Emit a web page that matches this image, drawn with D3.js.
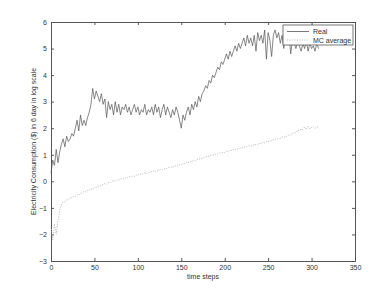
<!DOCTYPE html>
<html>
<head>
<meta charset="utf-8">
<script src="https://cdnjs.cloudflare.com/ajax/libs/d3/7.8.5/d3.min.js"></script>
<style>
body { margin: 0; background: #fff; }
svg text { font-family: "Liberation Sans", Arial, sans-serif; fill: #333; }
</style>
</head>
<body>
<svg id="chart"></svg>
<script>
// time step between stored samples
const step = 2;

// real consumption (log scale), every 2 steps
const realValues = [
	0.3, 0.8, 0.6, 1.2, 0.7, 1.1, 1.4, 1.6, 1.3, 1.7,
	1.5, 1.6, 1.8, 1.7, 2.0, 2.3, 1.9, 2.5, 2.1, 2.3,
	2.1, 2.4, 2.6, 2.9, 3.5, 3.1, 3.4, 3.2, 3.0, 3.3,
	2.9, 3.1, 2.4, 3.0, 2.7, 2.9, 2.5, 3.0, 2.6, 2.9,
	2.5, 2.8, 2.7, 2.9, 2.6, 2.8, 2.5, 2.7, 2.9, 2.6,
	2.8, 2.5, 2.7, 2.6, 2.9, 2.5, 2.7, 2.6, 2.8, 2.5,
	2.9, 2.6, 2.8, 2.4, 2.7, 2.9, 2.5, 2.8, 2.6, 2.4,
	2.7, 2.5, 2.8, 2.6, 2.3, 2.0, 2.5, 2.3, 2.6, 2.8,
	2.5, 2.9, 2.7, 3.0, 2.8, 3.2, 3.0, 3.3, 3.4, 3.6,
	3.5, 3.8, 3.7, 4.0, 3.9, 4.1, 4.3, 4.2, 4.5, 4.4,
	4.6, 4.8, 4.6, 4.9, 4.7, 4.9, 5.1, 4.9, 5.2, 5.0,
	5.2, 5.4, 5.1, 5.5, 5.2, 5.4, 5.1, 5.5, 4.9, 5.6,
	5.3, 5.5, 5.2, 5.7, 4.6, 5.6, 5.3, 4.7, 5.5, 5.7,
	5.4, 5.6, 5.2, 5.5, 5.0, 5.4, 5.3, 5.5, 4.8, 5.4,
	5.2, 5.0, 5.3, 5.1, 4.9, 5.2, 5.0, 5.3, 4.9, 5.2,
	5.0, 5.1, 4.9, 5.2, 5.0
];

// MC average, same sampling
const mcValues = [
	-1.7, -2.2, -1.6, -2.0, -1.5, -1.1, -0.85, -0.78, -0.76, -0.7,
	-0.68, -0.62, -0.62, -0.56, -0.57, -0.5, -0.52, -0.45, -0.44, -0.38,
	-0.4, -0.34, -0.33, -0.28, -0.3, -0.24, -0.23, -0.18, -0.2, -0.14,
	-0.13, -0.08, -0.11, -0.04, -0.06, 0.0, 0.03, -0.01, 0.06, 0.04,
	0.08, 0.11, 0.08, 0.14, 0.13, 0.18, 0.16, 0.2, 0.19, 0.24,
	0.22, 0.28, 0.25, 0.3, 0.31, 0.28, 0.35, 0.33, 0.37, 0.39,
	0.36, 0.42, 0.41, 0.45, 0.43, 0.48, 0.46, 0.5, 0.53, 0.5,
	0.56, 0.55, 0.6, 0.58, 0.63, 0.62, 0.67, 0.66, 0.71, 0.7,
	0.75, 0.74, 0.79, 0.78, 0.83, 0.82, 0.87, 0.86, 0.9, 0.92,
	0.95, 0.94, 0.98, 1.0, 0.99, 1.03, 1.02, 1.07, 1.06, 1.1,
	1.09, 1.14, 1.12, 1.17, 1.16, 1.2, 1.18, 1.23, 1.22, 1.26,
	1.25, 1.3, 1.28, 1.32, 1.34, 1.31, 1.37, 1.36, 1.4, 1.38,
	1.43, 1.42, 1.47, 1.45, 1.5, 1.49, 1.53, 1.52, 1.57, 1.56,
	1.6, 1.62, 1.61, 1.66, 1.68, 1.66, 1.72, 1.75, 1.73, 1.8,
	1.84, 1.82, 1.92, 1.9, 1.97, 1.95, 2.05, 1.96, 2.08, 1.98,
	2.03, 2.06, 1.99, 2.04, 2.05
];

const xTicks = [0, 50, 100, 150, 200, 250, 300, 350];
const yTicks = [-3, -2, -1, 0, 1, 2, 3, 4, 5, 6];
const seriesNames = ["Real", "MC average"];

const [w, h] = [392, 294];
const margin = {left: 51, right: 37, top: 22, bottom: 33};

const svg = d3.select("#chart").attr("width", w).attr("height", h);

const xScale = d3.scaleLinear().domain([0, 350]).range([margin.left, w - margin.right]);
const yScale = d3.scaleLinear().domain([-3, 6]).range([h - margin.bottom, margin.top]);

const axisColor = "#555";

// axes, ticks pointing inward like matlab
const xAxis = d3.axisBottom(xScale).tickValues(xTicks).tickSize(-3).tickPadding(4);
const yAxis = d3.axisLeft(yScale).tickValues(yTicks).tickSize(-3).tickPadding(4);
const xTop = d3.axisTop(xScale).tickValues(xTicks).tickSize(-3).tickFormat("");
const yRight = d3.axisRight(yScale).tickValues(yTicks).tickSize(-3).tickFormat("");

const gx = svg.append("g").attr("transform", `translate(0, ${h - margin.bottom})`).call(xAxis);
const gy = svg.append("g").attr("transform", `translate(${margin.left}, 0)`).call(yAxis);
const gt = svg.append("g").attr("transform", `translate(0, ${margin.top})`).call(xTop);
const gr = svg.append("g").attr("transform", `translate(${w - margin.right}, 0)`).call(yRight);

[gx, gy, gt, gr].forEach(g => {
	g.selectAll(".domain").attr("stroke", axisColor).attr("stroke-width", 1);
	g.selectAll(".tick line").attr("stroke", axisColor);
	g.selectAll(".tick text").attr("font-size", 7).attr("fill", "#333").attr("font-family", "Liberation Sans, Arial, sans-serif");
});

const line = d3.line().x((d, i) => xScale(i * step)).y(d => yScale(d));

svg.append("path").datum(mcValues)
	.attr("d", line)
	.attr("fill", "none")
	.attr("stroke", "#aaa")
	.attr("stroke-width", 0.9)
	.attr("stroke-dasharray", "1,1.5");

svg.append("path").datum(realValues)
	.attr("d", line)
	.attr("fill", "none")
	.attr("stroke", "#555")
	.attr("stroke-width", 0.7);

// axis labels
svg.append("text")
	.attr("x", xScale(175)).attr("y", 279)
	.attr("text-anchor", "middle")
	.attr("font-size", 7)
	.text("time steps");

svg.append("text")
	.attr("transform", `translate(36, ${yScale(1.5)}) rotate(-90)`)
	.attr("text-anchor", "middle")
	.attr("font-size", 7)
	.text("Electricity Consumption ($) in 6 day in log scale");

// legend
const legend = svg.append("g").attr("transform", "translate(283, 25)");
legend.append("rect").attr("width", 70).attr("height", 20)
	.attr("fill", "#fff").attr("stroke", axisColor).attr("stroke-width", 0.8);

const legendStyles = [
	{stroke: "#555", dash: null},
	{stroke: "#aaa", dash: "1,1.5"}
];
seriesNames.forEach((name, i) => {
	const y = 6.5 + i * 8.5;
	legend.append("line").attr("x1", 4).attr("x2", 26).attr("y1", y).attr("y2", y)
		.attr("stroke", legendStyles[i].stroke).attr("stroke-width", 0.8)
		.attr("stroke-dasharray", legendStyles[i].dash);
	legend.append("text").attr("x", 30).attr("y", y + 2.5).attr("font-size", 7).text(name);
});
</script>
</body>
</html>
